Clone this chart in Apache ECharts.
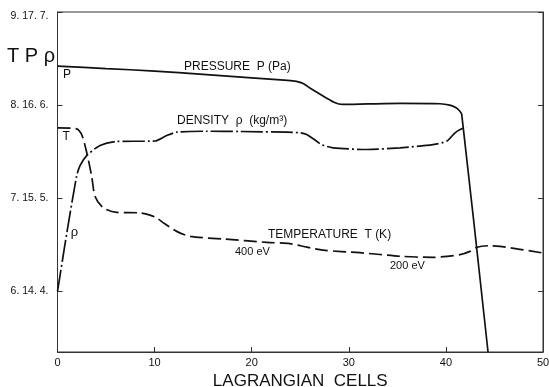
<!DOCTYPE html>
<html>
<head>
<meta charset="utf-8">
<script src="https://cdn.jsdelivr.net/npm/echarts@6/dist/echarts.min.js"></script>
<style>
  html, body { margin: 0; padding: 0; background: #fff; }
  #chart { width: 549px; height: 387px; }
</style>
</head>
<body>
<div id="chart"></div>
<script>
// Shared vertical scale: one decade per division, read as log T / log P / log rho
const yTicks = [6, 7, 8, 9];
const yTickLabels = ['6. 14. 4.', '7. 15. 5.', '8. 16. 6.', '9. 17. 7.'];
const xTicks = [0, 10, 20, 30, 40, 50];

// Pressure P (Pa), solid
const pressure = [
  [0, 8.42], [5, 8.393], [10, 8.366], [15, 8.33], [20, 8.293], [23.7, 8.266],
  [24.6, 8.255], [25.3, 8.232], [26.2, 8.17], [27.6, 8.083], [28.6, 8.025],
  [29.3, 8.008], [32, 8.013], [35.3, 8.018], [39.4, 8.015], [40.4, 8.0],
  [41.0, 7.975], [41.4, 7.94], [41.63, 7.90], [44.34, 5.35]
];

// Density rho (kg/m^3), dash-dot
const density = [
  [0, 6.0], [0.98, 6.64], [1.96, 7.233], [2.32, 7.352], [3.01, 7.459],
  [4.38, 7.567], [6.1, 7.61], [9.5, 7.613], [10.04, 7.615], [11.25, 7.674],
  [12.28, 7.71], [15.37, 7.72], [18.8, 7.717], [23.6, 7.71], [24.97, 7.703],
  [25.66, 7.685], [26.69, 7.613], [27.2, 7.575], [28.37, 7.542], [31.84, 7.524],
  [35.27, 7.542], [38.67, 7.577], [40.08, 7.613], [40.94, 7.703],
  [41.63, 7.746], [42.14, 7.763]
];

// Temperature T (K), dashed
const temperature = [
  [0, 7.757], [1.98, 7.746], [2.49, 7.685], [3.01, 7.491], [3.52, 7.237],
  [3.87, 7.02], [4.72, 6.897], [6.1, 6.849], [8.5, 6.843], [9.53, 6.819],
  [10.22, 6.789], [10.87, 6.739], [12.28, 6.645], [13.65, 6.591],
  [17.08, 6.563], [21.55, 6.527], [23.94, 6.513], [25.7, 6.475],
  [27.34, 6.443], [31.15, 6.416], [35.27, 6.378], [38.67, 6.366],
  [41.45, 6.395], [42.48, 6.43], [43.2, 6.475], [44.54, 6.491],
  [45.57, 6.484], [50, 6.413]
];

// Curve annotations, anchored in data units
const notes = [
  { text: 'PRESSURE  P (Pa)', x: 13.03, y: 8.416, size: 12, align: 'left' },
  { text: 'DENSITY  ρ  (kg/m³)', x: 12.31, y: 7.83, size: 12, align: 'left' },
  { text: 'TEMPERATURE  T (K)', x: 21.68, y: 6.61, size: 12, align: 'left' },
  { text: '400 eV', x: 18.28, y: 6.42, size: 11, align: 'left' },
  { text: '200 eV', x: 34.24, y: 6.276, size: 11, align: 'left' },
  { text: 'P', x: 0.98, y: 8.33, size: 12, align: 'center' },
  { text: 'T', x: 0.88, y: 7.66, size: 12, align: 'center' },
  { text: 'ρ', x: 1.75, y: 6.63, size: 13, align: 'center' }
];

const FONT = 'Liberation Sans';
const INK = '#111';

const chart = echarts.init(document.getElementById('chart'), null, { renderer: 'canvas' });

const yBase = {
  type: 'value', min: 5.35, max: 9,
  splitLine: { show: false },
  axisLine: { show: true, lineStyle: { color: '#333', width: 1 } }
};

chart.setOption({
  animation: false,
  backgroundColor: '#fff',
  grid: {
    left: 57.5, right: 6, top: 12, bottom: 35,
    containLabel: false, outerBoundsMode: 'none',
    show: true, borderColor: '#333', borderWidth: 1, backgroundColor: 'transparent'
  },
  xAxis: {
    type: 'value', min: 0, max: 50, interval: 10,
    name: 'LAGRANGIAN  CELLS', nameLocation: 'middle', nameGap: 18,
    nameTextStyle: { fontFamily: FONT, fontSize: 17, color: INK },
    splitLine: { show: false },
    axisLine: { show: true, onZero: false, lineStyle: { color: '#333', width: 1 } },
    axisTick: { show: true, inside: true, length: 5, lineStyle: { color: '#333' } },
    axisLabel: { fontFamily: FONT, fontSize: 11, color: INK, margin: 5 }
  },
  yAxis: [
    Object.assign({}, yBase, {
      position: 'left',
      axisTick: { show: true, inside: true, length: 5, customValues: yTicks, lineStyle: { color: '#333' } },
      axisLabel: {
        show: true, customValues: yTicks, margin: 9,
        fontFamily: FONT, fontSize: 10.5, color: INK,
        formatter: function (v) {
          const i = yTicks.indexOf(Math.round(v));
          const s = i >= 0 ? yTickLabels[i] : '';
          return i === yTicks.length - 1 ? '{top|' + s + '}' : s;
        },
        rich: { top: { fontFamily: FONT, fontSize: 10.5, color: INK, padding: [9, 0, 0, 0] } }
      }
    }),
    Object.assign({}, yBase, {
      position: 'right',
      axisTick: { show: true, inside: true, length: 5, customValues: yTicks, lineStyle: { color: '#333' } },
      axisLabel: { show: false }
    })
  ],
  series: [
    {
      name: 'P', type: 'line', data: pressure, symbol: 'none', smooth: 0.25,
      clip: true, lineStyle: { color: INK, width: 1.7 }
    },
    {
      name: 'rho', type: 'line', data: density, symbol: 'none', smooth: 0.25,
      clip: true, lineStyle: { color: INK, width: 1.7, type: [22, 3, 2, 3] }
    },
    {
      name: 'T', type: 'line', data: temperature, symbol: 'none', smooth: 0.25,
      clip: true, lineStyle: { color: INK, width: 1.7, type: [13, 5] }
    }
  ]
});

// Place the text annotations now that the scales exist
const graphics = notes.map(function (n) {
  const p = chart.convertToPixel({ gridIndex: 0 }, [n.x, n.y]);
  return {
    type: 'text', x: p[0], y: p[1],
    style: {
      text: n.text, fill: INK, font: n.size + 'px "' + FONT + '"',
      align: n.align, verticalAlign: 'middle'
    }
  };
});
const topLeft = chart.convertToPixel({ gridIndex: 0 }, [0, 8.52]);
graphics.push({
  type: 'text', x: topLeft[0] - 26.5, y: topLeft[1],
  style: { text: 'T P ρ', fill: INK, font: '20px "' + FONT + '"', align: 'center', verticalAlign: 'middle' }
});
chart.setOption({ graphic: graphics });
</script>
</body>
</html>
